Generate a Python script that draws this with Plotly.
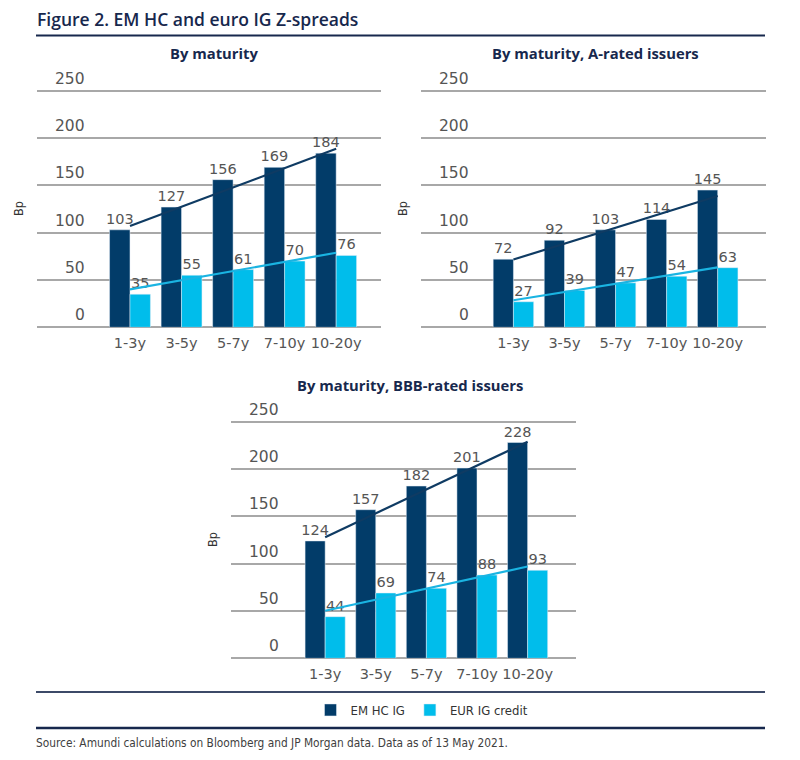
import numpy as np
import plotly.graph_objects as go

# ---------------- data ----------------
maturities = ["1-3y", "3-5y", "5-7y", "7-10y", "10-20y"]
series_names = ["EM HC IG", "EUR IG credit"]

em_all = [103, 127, 156, 169, 184]
eur_all = [35, 55, 61, 70, 76]

em_a = [72, 92, 103, 114, 145]
eur_a = [27, 39, 47, 54, 63]

em_bbb = [124, 157, 182, 201, 228]
eur_bbb = [44, 69, 74, 88, 93]

panel_titles = ["By maturity", "By maturity, A-rated issuers", "By maturity, BBB-rated issuers"]
y_ticks = [0, 50, 100, 150, 200, 250]

title_text = "Figure 2. EM HC and euro IG Z-spreads"
source_text = "Source: Amundi calculations on Bloomberg and JP Morgan data. Data as of 13 May 2021."

# ---------------- style ----------------
OFF = 8                      # page body margin of the browser
W, H = 800 - 2 * OFF, 760 - 2 * OFF
DARK = "#023c69"
LIGHT = "#00bdeb"
DARK_LINE = "#0f3b63"
LIGHT_LINE = "#1ab4e2"
NAVY = "#17284d"
GRAY_TXT = "#555555"
GRID = "#a8a8a8"
FONT = "Open Sans, Lato, sans-serif"
NUM = "DejaVu Sans, Open Sans, sans-serif"
COND = "Liberation Sans Narrow, DejaVu Sans Condensed, Roboto Condensed, Roboto, sans-serif"
YMAX = 252                   # a hair above 250 so the top gridline is drawn
PX_PER_UNIT = 236.6 / 250


def px(x):
    return (x - OFF) / W


def py(y):
    return 1 - (y - OFF) / H


# panel geometry in page pixels: (left, right, top(=250), bottom(=0)), x-range
panels = [
    dict(em=em_all, eur=eur_all, box=(36.7, 381.0, 90.7, 327.3), xr=[-1.81, 4.87],
         title=panel_titles[0], tpos=(213.5, 53), bp=(18, 209)),
    dict(em=em_a, eur=eur_a, box=(421.0, 765.7, 90.7, 327.3), xr=[-1.81, 4.94],
         title=panel_titles[1], tpos=(595.5, 53), bp=(402, 209)),
    dict(em=em_bbb, eur=eur_bbb, box=(231.0, 575.7, 421.7, 658.3), xr=[-1.86, 4.95],
         title=panel_titles[2], tpos=(410, 385), bp=(212, 540)),
]

fig = go.Figure()
annotations = []
shapes = []

for i, p in enumerate(panels):
    n = "" if i == 0 else str(i + 1)
    xa, ya = "x" + n, "y" + n
    first = i == 0
    for vals, name, col, grp in ((p["em"], series_names[0], DARK, "em"),
                                 (p["eur"], series_names[1], LIGHT, "eur")):
        fig.add_trace(go.Bar(
            x=maturities, y=vals, name=name, marker_color=col,
            text=[str(v) for v in vals], textposition="outside",
            constraintext="none",
            textfont=dict(family=NUM, size=14.5, color=GRAY_TXT),
            cliponaxis=False, showlegend=first, legendgroup=grp,
            xaxis=xa, yaxis=ya))
    # linear trendlines (least-squares fit of each series, as in the source)
    idx = np.arange(len(maturities))
    for vals, col in ((p["em"], DARK_LINE), (p["eur"], LIGHT_LINE)):
        k, b = np.polyfit(idx, vals, 1)
        fig.add_trace(go.Scatter(
            x=maturities, y=k * idx + b, mode="lines",
            line=dict(color=col, width=2.2), showlegend=False,
            hoverinfo="skip", xaxis=xa, yaxis=ya))

    l, r, t, bt = p["box"]
    t_ext = t - (YMAX - 250) * PX_PER_UNIT
    fig.update_layout({
        "xaxis" + n: dict(domain=[px(l), px(r)], range=p["xr"], anchor=ya,
                          showgrid=False, showline=False, zeroline=False, ticks="",
                          tickfont=dict(family=NUM, size=14.5, color=GRAY_TXT),
                          ticklabelstandoff=5, fixedrange=True),
        "yaxis" + n: dict(domain=[py(bt), py(t_ext)], range=[0, YMAX], anchor=xa,
                          tickvals=y_ticks, showticklabels=False, showgrid=True,
                          gridcolor=GRID, gridwidth=1.6, zeroline=True,
                          zerolinecolor=GRID, zerolinewidth=1.6, showline=False,
                          ticks="", fixedrange=True),
    })
    # y tick labels sitting above the gridlines
    for tv in y_ticks:
        annotations.append(dict(
            x=px(l + 50), xref="paper", xanchor="right",
            y=tv, yref=ya, yanchor="bottom", yshift=1,
            text=str(tv), showarrow=False,
            font=dict(family=NUM, size=15.5, color=GRAY_TXT)))
    # panel subtitle
    annotations.append(dict(
        x=px(p["tpos"][0]), y=py(p["tpos"][1]), xref="paper", yref="paper",
        xanchor="center", yanchor="middle", text="<b>" + p["title"] + "</b>",
        showarrow=False, font=dict(family=FONT, size=14.8, color=NAVY)))
    # axis unit label
    annotations.append(dict(
        x=px(p["bp"][0]), y=py(p["bp"][1]), xref="paper", yref="paper",
        xanchor="center", yanchor="middle", text="Bp", textangle=-90,
        showarrow=False, font=dict(family=COND, size=12.5, color="#333333")))

# figure title
annotations.append(dict(
    x=px(35), y=py(19), xref="paper", yref="paper", xanchor="left", yanchor="middle",
    text=title_text, showarrow=False,
    font=dict(family=FONT, size=17.5, color=NAVY, weight=600)))
# source
annotations.append(dict(
    x=px(34), y=py(743), xref="paper", yref="paper", xanchor="left", yanchor="middle",
    text=source_text, showarrow=False,
    font=dict(family=COND, size=11.8, color="#404040")))

# rules
shapes.append(dict(type="line", xref="paper", yref="paper", x0=px(36), x1=px(765),
                   y0=py(35.5), y1=py(35.5), line=dict(color=NAVY, width=2)))
shapes.append(dict(type="line", xref="paper", yref="paper", x0=px(36), x1=px(765),
                   y0=py(692), y1=py(692), line=dict(color="#3c4a68", width=1.8)))
shapes.append(dict(type="line", xref="paper", yref="paper", x0=px(36), x1=px(765),
                   y0=py(728), y1=py(728), line=dict(color=NAVY, width=2.5)))

fig.update_layout(
    width=W, height=H,
    margin=dict(l=0, r=0, t=0, b=0),
    paper_bgcolor="white", plot_bgcolor="white",
    barmode="group", bargap=0.207, bargroupgap=0,
    showlegend=True,
    legend=dict(orientation="h", x=px(422), xanchor="center", y=py(710), yanchor="middle",
                font=dict(family=COND, size=13, color="#333333"),
                itemclick=False, itemdoubleclick=False, traceorder="normal"),
    annotations=annotations, shapes=shapes,
    font=dict(family=FONT),
)

fig.write_html("out.html")
